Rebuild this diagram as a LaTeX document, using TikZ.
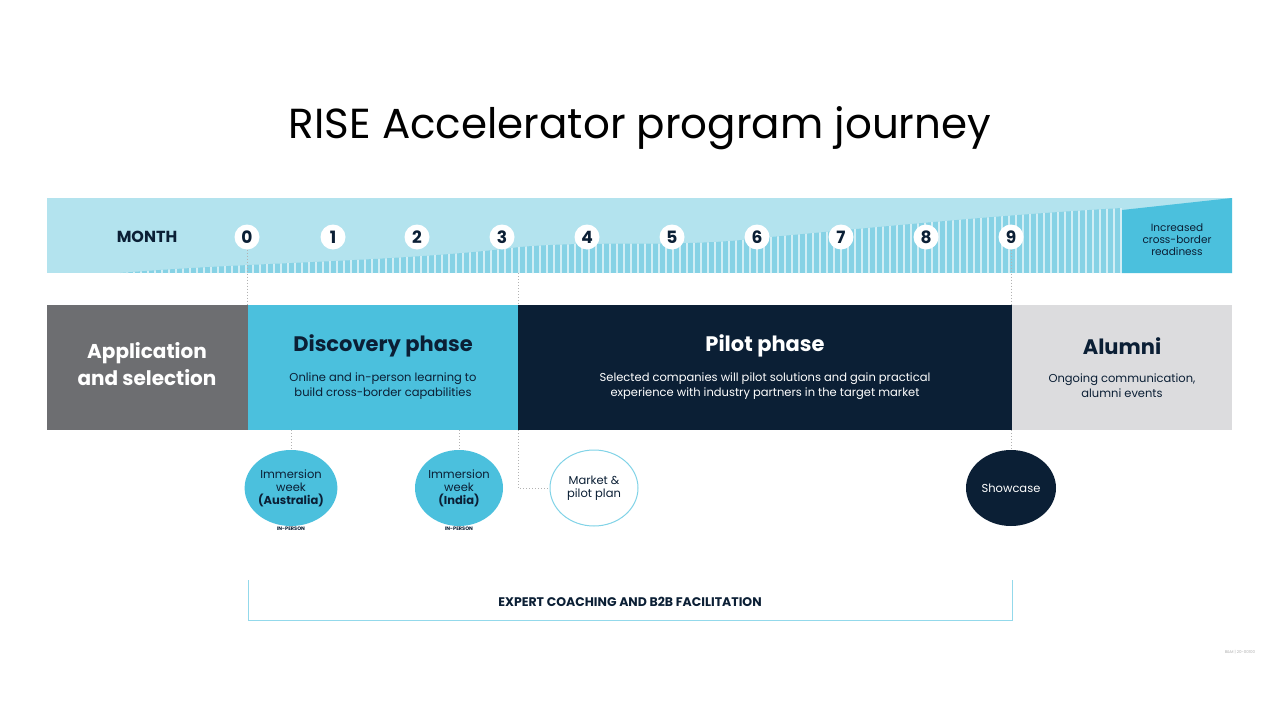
\documentclass[tikz,border=0pt]{standalone}
\usepackage{fontspec}
\setmainfont{Poppins}
\usetikzlibrary{shapes.geometric}
\begin{document}
\begin{tikzpicture}[x=1pt,y=-1pt,
  navy/.style={text=navyc},
  month/.style={circle,fill=white,minimum size=25pt,inner sep=0pt,font=\fontsize{17}{17}\selectfont\bfseries,text=navyc},
  dotl/.style={draw=gray!60,dotted,line width=1pt},
  ttl/.style={font=\fontsize{21}{24}\selectfont\bfseries,align=center},
  sub/.style={font=\fontsize{11.5}{15}\selectfont,align=center},
  circ/.style={ellipse,minimum width=88pt,minimum height=76pt,inner sep=0pt,align=center,font=\fontsize{11.5}{13}\selectfont},
]
\definecolor{navyc}{HTML}{0B1F35}
\definecolor{lightc}{HTML}{B3E3EE}
\definecolor{midc}{HTML}{86D2E5}
\definecolor{cyanc}{HTML}{4BC0DD}
\definecolor{grayc}{HTML}{6D6E71}
\definecolor{alumc}{HTML}{DCDCDE}
\useasboundingbox (0,0) rectangle (1280,720);
\fill[white] (0,0) rectangle (1280,720);
\node[font=\fontsize{42}{46}\selectfont,text=black] (title) at (640,128) {RISE Accelerator program journey};
% bar
\fill[lightc] (47,198) rectangle (1232,273);
\begin{scope}
\clip (120,273) .. controls (250,262) and (400,262) .. (520,247) .. controls (600,240) and (680,248) .. (760,238) .. controls (900,225) and (1000,215) .. (1122,208) -- (1122,273) -- cycle;
\fill[midc] (47,198) rectangle (1122,273);
\foreach \i in {0,...,160} \draw[lightc!60!white,line width=1.3pt] ({120+\i*7},198) -- ++(0,80);
\end{scope}
\fill[cyanc] (1122,210) -- (1232,198) -- (1232,273) -- (1122,273) -- cycle;
\node[font=\fontsize{10.5}{12}\selectfont,align=center,text=navyc] (incr) at (1177,240) {Increased\\cross-border\\readiness};
\node[font=\fontsize{16}{16}\selectfont\bfseries,text=navyc] (mlabel) at (147,237) {MONTH};
\foreach \n/\x in {0/247,1/333,2/417,3/502,4/587,5/672,6/757,7/841,8/926,9/1011} \node[month] (m\n) at (\x,237) {\n};
% phases
\fill[grayc] (47,305) rectangle (248,430);
\fill[cyanc] (248,305) rectangle (518,430);
\fill[navyc] (518,305) rectangle (1012,430);
\fill[alumc] (1012,305) rectangle (1232,430);
\node[ttl,text=white,font=\fontsize{20}{27}\selectfont\bfseries] (app) at (147,364) {Application\\and selection};
\node[ttl,text=navyc] (disc) at (383,346) {Discovery phase};
\node[sub,text=navyc] (discs) at (383,386) {Online and in-person learning to\\build cross-border capabilities};
\node[ttl,text=white] (pilot) at (765,346) {Pilot phase};
\node[sub,text=white] (pilots) at (765,386) {Selected companies will pilot solutions and gain practical\\experience with industry partners in the target market};
\node[ttl,text=navyc] (alum) at (1122,346) {Alumni};
\node[sub,text=navyc] (alums) at (1122,386) {Ongoing communication,\\alumni events};
% dotted links top
\coordinate (d0) at (247,305); \coordinate (d3) at (518,305); \coordinate (d9) at (1011,305);
\draw[dotl] (m0.south) -- (d0);
\draw[dotl] (518,273) -- (d3);
\draw[dotl] (m9.south) -- (d9);
% circles
\node[circ,fill=cyanc,text=navyc] (aus) at (291,488) {Immersion\\week\\\textbf{(Australia)}};
\node[circ,fill=cyanc,text=navyc] (ind) at (459,488) {Immersion\\week\\\textbf{(India)}};
\node[circ,draw=cyanc!70,line width=1pt,fill=white,text=navyc] (mkt) at (594,488) {Market \&\\pilot plan};
\node[circ,fill=navyc,text=white,minimum width=90pt] (show) at (1011,488) {Showcase};
\node[font=\fontsize{5}{5}\selectfont\bfseries,text=navyc] (ip1) at (291,529) {IN-PERSON};
\node[font=\fontsize{5}{5}\selectfont\bfseries,text=navyc] (ip2) at (459,529) {IN-PERSON};
\draw[dotl] (291,430) -- (aus.north);
\draw[dotl] (459,430) -- (ind.north);
\draw[dotl] (518,430) |- (mkt.west);
\draw[dotl] (1011,430) -- (show.north);
% bracket
\draw[cyanc!60,line width=1pt] (248,580) -- (248,620) -- (1012,620) -- (1012,580);
\node[font=\fontsize{12.5}{14}\selectfont\bfseries,text=navyc] (exp) at (630,602) {EXPERT COACHING AND B2B FACILITATION};
\node[font=\fontsize{4}{4}\selectfont,text=gray!60] (ref) at (1240,652) {B\&M | 20-00100};
\end{tikzpicture}
\end{document}
